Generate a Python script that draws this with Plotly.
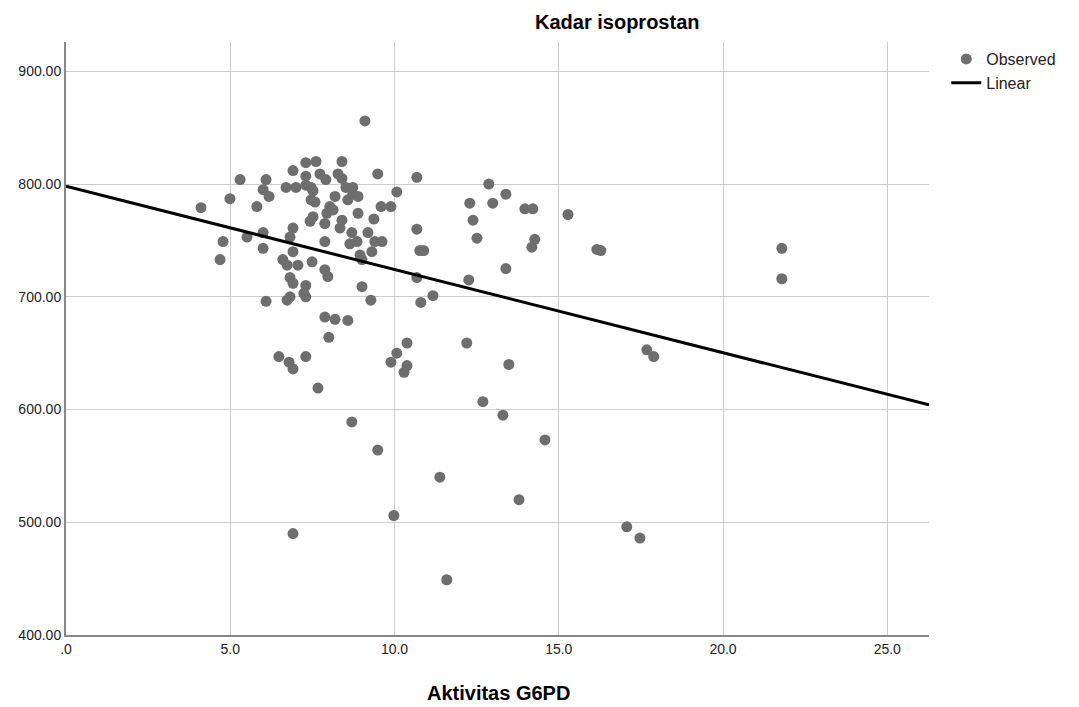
import plotly.graph_objects as go
import numpy as np

# Observed data: Aktivitas G6PD (x) vs Kadar isoprostan (y)
g6pd = [
    4.11, 4.99, 5.30, 4.78, 4.69, 5.51, 5.81, 6.00, 6.18, 6.09, 6.00, 6.00, 6.09, 6.48, 6.79, 6.91,
    6.91, 6.70, 7.00, 6.91, 6.91, 6.82, 6.60, 6.73, 6.91, 7.06, 6.82, 6.91, 6.73, 6.82,
    7.30, 7.61, 7.30, 7.73, 7.91, 7.30, 7.46, 7.52, 7.46, 7.58, 7.52, 7.43, 7.88, 7.49, 7.30, 7.24,
    7.30, 7.30, 7.67, 7.88, 7.88, 7.97, 7.88, 8.19, 8.58, 8.00, 7.94, 8.03, 8.13, 8.19, 8.28, 8.40,
    8.40, 8.34, 8.40, 8.52, 8.73, 8.73, 8.58, 8.89, 8.89, 8.70, 8.86, 8.64, 8.95, 9.01, 9.01, 9.10,
    9.19, 9.37, 9.31, 9.40, 9.28, 9.49, 9.62, 9.59, 9.89, 8.70, 9.49, 9.98,
    10.68, 10.07, 12.87, 13.39, 12.29, 12.99, 13.97, 14.21, 15.28, 10.68, 12.39, 12.51, 14.27, 14.18,
    10.77, 10.89, 16.16, 16.28, 13.39, 10.68, 12.26, 11.17, 10.80, 10.38, 12.20, 10.07, 9.89, 10.38,
    10.29, 12.69, 13.30, 14.58, 11.38, 13.79, 11.59, 17.07, 17.47, 17.68, 17.89, 21.79, 21.79, 13.48,
]
isoprostan = [
    779, 787, 804, 749, 733, 753, 780, 795, 789, 804, 757, 743, 696, 647, 642, 636,
    490, 797, 797, 812, 761, 753, 733, 728, 740, 728, 717, 712, 697, 700,
    819, 820, 807, 809, 804, 799, 797, 794, 786, 784, 771, 767, 765, 731, 710, 703,
    700, 647, 619, 749, 724, 718, 682, 680, 679, 664, 774, 780, 777, 789, 809, 805,
    820, 761, 768, 797, 797, 791, 786, 789, 774, 757, 749, 747, 737, 733, 709, 856,
    757, 769, 740, 749, 697, 809, 749, 780, 780, 589, 564, 506,
    806, 793, 800, 791, 783, 783, 778, 778, 773, 760, 768, 752, 751, 744,
    741, 741, 742, 741, 725, 717, 715, 701, 695, 659, 659, 650, 642, 639,
    633, 607, 595, 573, 540, 520, 449, 496, 486, 653, 647, 743, 716, 640,
]

# Linear fit line parameters
fit_intercept = 798.0
fit_slope = -7.38

x_range = [0, 26.27]
y_range = [400, 926]
x_tickvals = [0, 5, 10, 15, 20, 25]
x_ticktext = [".0", "5.0", "10.0", "15.0", "20.0", "25.0"]
y_tickvals = [400, 500, 600, 700, 800, 900]
y_ticktext = ["400.00", "500.00", "600.00", "700.00", "800.00", "900.00"]

line_x = np.array(x_range)
line_y = fit_intercept + fit_slope * line_x

FONT = "Liberation Sans, Arial, sans-serif"

# page offset of the figure (browser default body margin)
OFF = 8
ML, MR, MT, MB = 66 - OFF, 150 + OFF, 42 - OFF, 72 + OFF
W, H = 1079, 707

fig = go.Figure()
fig.add_trace(go.Scatter(
    x=g6pd, y=isoprostan, mode="markers", name="Observed",
    marker=dict(color="#6e6e6e", size=11, line=dict(width=0)),
    cliponaxis=False,
))
fig.add_trace(go.Scatter(
    x=line_x, y=line_y, mode="lines", name="Linear",
    line=dict(color="black", width=3),
))

pw = W - ML - MR
ph = H - MT - MB


def px2paper(px, py):
    return (px - OFF - ML) / pw, 1 - (py - OFF - MT) / ph


tx, ty = px2paper(617, 22)
ax_x, ax_y = px2paper(498, 693)

fig.update_layout(
    width=W, height=H,
    margin=dict(l=ML, r=MR, t=MT, b=MB, autoexpand=False),
    paper_bgcolor="white", plot_bgcolor="white",
    font=dict(family=FONT, color="#222222", size=14),
    showlegend=True,
    legend=dict(x=1.02, y=1.0, xanchor="left", yanchor="top",
                font=dict(size=16, family=FONT, color="#222222"),
                tracegroupgap=0, itemwidth=30, bgcolor="rgba(0,0,0,0)"),
    annotations=[
        dict(text="<b>Kadar isoprostan</b>", x=tx, y=ty, xref="paper", yref="paper",
             showarrow=False, font=dict(size=20, family=FONT, color="black"),
             xanchor="center", yanchor="middle"),
        dict(text="<b>Aktivitas G6PD</b>", x=ax_x, y=ax_y, xref="paper", yref="paper",
             showarrow=False, font=dict(size=20, family=FONT, color="black"),
             xanchor="center", yanchor="middle"),
    ],
)

fig.update_xaxes(
    range=x_range, tickvals=x_tickvals, ticktext=x_ticktext,
    showgrid=True, gridcolor="#cccccc", gridwidth=1,
    showline=True, linecolor="#888888", linewidth=2,
    ticks="", zeroline=False, tickfont=dict(size=14, color="#222222"),
    automargin=False,
)
fig.update_yaxes(
    range=y_range, tickvals=y_tickvals, ticktext=y_ticktext,
    showgrid=True, gridcolor="#cccccc", gridwidth=1,
    showline=True, linecolor="#888888", linewidth=2,
    ticks="", zeroline=False, tickfont=dict(size=14, color="#222222"),
    automargin=False,
)

fig.write_html("out.html")
